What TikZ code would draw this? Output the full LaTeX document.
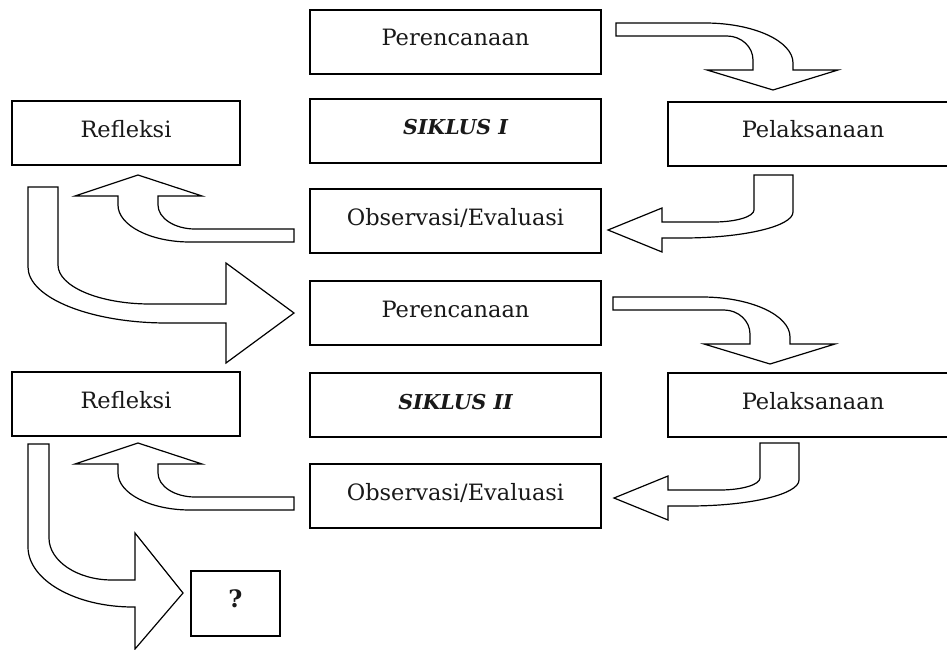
\documentclass[tikz,border=0pt]{standalone}
\usepackage{fontspec}
\setmainfont{DejaVu Serif}
\begin{document}
\begin{tikzpicture}[x=1pt,y=-1pt,
  box/.style={draw, line width=1.5pt, inner sep=0pt, text height=36pt, text depth=28pt,
    anchor=base, minimum width=291pt, font=\fontsize{22.5}{26}\selectfont, text=black!90},
  sik/.style={box, font=\fontsize{20.5}{24}\selectfont\bfseries\itshape},
  blk/.style={draw, line width=1.2pt, fill=white, line join=miter},
  arrowdown/.pic={\draw[blk] (616,23) -- (705,23) .. controls (753.4,23) and (793,41) .. (793,63) -- (793,70) -- (838,70) -- (773,90) -- (707,70) -- (753,70) -- (753,60) .. controls (753,46.8) and (741.3,36) .. (727,36) -- (616,36) -- cycle;},
  arrowleft/.pic={\draw[blk] (754,175) -- (793,175) -- (793,212) .. controls (793,226.3) and (743.5,238) .. (683,238) -- (662,238) -- (662,252) -- (608,230) -- (662,208) -- (662,222) -- (714,222) .. controls (736,222) and (754,216.6) .. (754,210) -- cycle;},
  arrowup/.pic={\draw[blk] (294,229) -- (294,242) -- (190,242) .. controls (150.4,242) and (118,225.4) .. (118,205) -- (118,196) -- (75,196) -- (138,175) -- (202,196) -- (158,196) -- (158,205) .. controls (158,218.2) and (174.6,229) .. (195,229) -- cycle;}
]
\clip (0,0) rectangle (947,650);
\fill[white] (0,0) rectangle (947,650);

% cycle I
\node[box] (per1) at (455.5,46) {Perencanaan};
\node[sik] (sik1) at (455.5,135) {SIKLUS I};
\node[box, minimum width=228pt] (ref1) at (126,137) {Refleksi};
\node[box, minimum width=290pt] (pel1) at (813,138) {Pelaksanaan};
\node[box] (obs1) at (455.5,225) {Observasi/Evaluasi};

% cycle II
\node[box] (per2) at (455.5,317) {Perencanaan};
\node[sik] (sik2) at (455.5,409) {SIKLUS II};
\node[box, minimum width=228pt] (ref2) at (126,408) {Refleksi};
\node[box, minimum width=290pt] (pel2) at (813,409) {Pelaksanaan};
\node[box] (obs2) at (455.5,500) {Observasi/Evaluasi};

\node[box, minimum width=89pt, text depth=29pt, font=\fontsize{24}{28}\selectfont\bfseries] (q) at (235.5,607) {?};

% block arrows cycle I
\pic (a1) at (0,0) {arrowdown};
\pic (a2) at (0,0) {arrowleft};
\pic (a3) at (0,0) {arrowup};
% block arrows cycle II
\pic (a5) at (-3,274) {arrowdown};
\pic (a6) at (6,268) {arrowleft};
\pic (a7) at (0,268) {arrowup};

% Refleksi I -> Perencanaan II
\draw[blk] (28,187) -- (58,187) -- (58,265) .. controls (58,286.5) and (99.4,304) .. (150,304) -- (226,304) -- (226,263) -- (294,313) -- (226,363) -- (226,323) -- (167,323) .. controls (90.5,323) and (28,297.8) .. (28,267) -- cycle;
% Refleksi II -> ?
\draw[blk] (28,444) -- (49,444) -- (49,538) .. controls (49,561) and (77.4,580) .. (112,580) -- (135,580) -- (135,533) -- (183,593) -- (135,649) -- (135,607) -- (133,607) .. controls (75.3,607) and (28,580) .. (28,547) -- cycle;
\end{tikzpicture}
\end{document}
